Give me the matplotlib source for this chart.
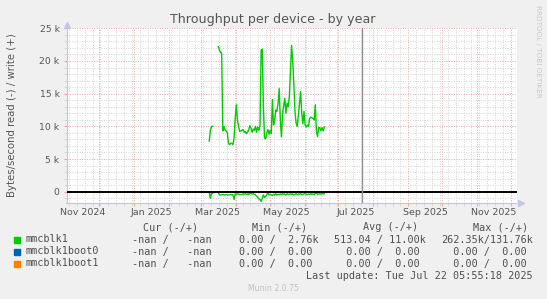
import matplotlib
matplotlib.use('Agg')
import matplotlib.pyplot as plt
import matplotlib.dates as mdates
from matplotlib.patches import Rectangle
import numpy as np
import pandas as pd
from datetime import datetime

# daily averages, first sample on 2025-03-08, values in k bytes/s
first_day = '2025-03-08 12:00'
write_k = [7.75, 9.4, 10.0, 10.0, np.nan, np.nan, np.nan, np.nan, 22.2, 21.7,
           21.3, 21.2, 9.3, 10.0, 9.4, 9.3, 9.0, 7.4, 7.2, 7.4,
           7.4, 7.2, 8.2, 11.3, 13.3, 10.9, 10.0, 9.2, 9.3, 9.4,
           9.5, 9.1, 9.2, 8.9, 9.1, 9.5, 10.1, 9.7, 9.1, 9.6,
           9.4, 10.0, 9.1, 9.9, 9.4, 10.2, 21.7, 21.8, 13.0, 8.2,
           8.1, 9.0, 9.5, 8.8, 9.4, 8.9, 14.1, 10.2, 11.0, 12.5,
           12.3, 13.5, 15.8, 11.0, 8.4, 11.8, 13.2, 14.3, 12.0, 13.5,
           13.0, 14.6, 18.5, 22.4, 20.0, 16.5, 12.3, 10.5, 10.0, 11.6,
           13.5, 15.3, 12.0, 10.4, 12.3, 10.2, 9.9, 10.2, 10.0, 11.2,
           11.4, 11.3, 11.2, 11.0, 13.3, 9.3, 8.4, 9.8, 9.8, 9.3,
           9.8, 9.3, 9.9]
read_k = [0.15, 1.0, 0.2, 0.25, np.nan, np.nan, np.nan, np.nan, 0.1, 0.5,
          0.5, 0.5, 0.45, 0.5, 0.5, 0.45, 0.5, 0.5, 0.5, 0.4,
          0.5, 0.45, 1.2, 0.3, 0.4, 0.35, 0.35, 0.45, 0.4, 0.45,
          0.35, 0.4, 0.3, 0.4, 0.35, 0.45, 0.0, 0.3, 0.35, 0.3,
          0.4, 0.5, 0.7, 0.9, 1.1, 1.2, 1.5, 1.0, 0.5, 0.9,
          0.7, 0.5, 0.2, 0.5, 0.4, 0.5, 0.6, 0.4, 0.5, 0.3,
          0.5, 0.4, 0.5, 0.35, 0.45, 0.3, 0.4, 0.35, 0.5, 0.3,
          0.4, 0.45, 0.3, 0.4, 0.35, 0.5, 0.4, 0.3, 0.45, 0.35,
          0.4, 0.3, 0.45, 0.4, 0.35, 0.3, 0.4, 0.45, 0.35, 0.4,
          0.3, 0.4, 0.35, 0.45, 0.3, 0.2, 0.4, 0.35, 0.3, 0.4,
          0.25, 0.35, 0.3]

month_labels = ['Nov 2024', 'Jan 2025', 'Mar 2025', 'May 2025',
                'Jul 2025', 'Sep 2025', 'Nov 2025']
y_ticks = [0, 5000, 10000, 15000, 20000, 25000]
y_ticklabels = ['0', '5 k', '10 k', '15 k', '20 k', '25 k']

devices = ['mmcblk1', 'mmcblk1boot0', 'mmcblk1boot1']
dev_colors = ['#00CC00', '#0066B3', '#FF8000']
cur_txt = ['-nan /   -nan', '-nan /   -nan', '-nan /   -nan']
min_txt = ['0.00 /  2.76k', '0.00 /  0.00', '0.00 /  0.00']
avg_txt = ['513.04 / 11.00k', '  0.00 /  0.00', '  0.00 /  0.00']
max_txt = ['262.35k/131.76k', '  0.00 /  0.00', '  0.00 /  0.00']
last_update = 'Last update: Tue Jul 22 05:55:18 2025'
now = datetime(2025, 7, 22, 5, 55)

W, H = 547, 299
fig = plt.figure(figsize=(W / 100, H / 100), dpi=100, facecolor='#F0F0F0')

def px(x, y):
    return x / W, 1 - y / H

left, right, top, bottom = 66.5, 516.5, 28.3, 203.0
ax = fig.add_axes([left / W, 1 - bottom / H, (right - left) / W, (bottom - top) / H])
ax.set_facecolor('white')

dates = pd.date_range(first_day, periods=len(write_k), freq='D')
w = np.array(write_k) * 1000
r = -np.array(read_k) * 1000
ax.plot(dates, w, color='#00CC00', lw=1.0, zorder=4)
ax.plot(dates, r, color='#00CC00', lw=1.0, zorder=4)

ax.set_xlim(datetime(2024, 11, 1, 22), datetime(2025, 12, 5, 22))
ax.set_ylim(-1730, 25000)

# grid
ax.xaxis.set_major_locator(mdates.MonthLocator())
ax.xaxis.set_minor_locator(mdates.WeekdayLocator(byweekday=mdates.MO))
ax.xaxis.set_major_formatter(plt.NullFormatter())
ax.set_yticks(y_ticks)
ax.set_yticklabels(y_ticklabels)
ax.yaxis.set_minor_locator(matplotlib.ticker.MultipleLocator(1000))
ax.grid(which='minor', color='#D4D4D4', lw=0.7, linestyle=(0, (1, 1.5)))
ax.grid(which='major', color='#EFA5A5', lw=0.7, linestyle=(0, (1, 1.5)))
ax.tick_params(which='major', length=2, color='#EFA5A5', labelsize=6.7,
               labelcolor='#555555', pad=3)
ax.tick_params(which='minor', length=2, color='#D4D4D4')
ax.set_axisbelow(True)

for lab, (yy, mm) in zip(month_labels, [(2024, 11), (2025, 1), (2025, 3), (2025, 5),
                                          (2025, 7), (2025, 9), (2025, 11)]):
    ax.text(datetime(yy, mm, 16), -0.028, lab, transform=ax.get_xaxis_transform(),
            ha='center', va='top', fontsize=6.8, color='#555555')

ax.axhline(0, color='black', lw=1.4, zorder=5)
ax.axvline(now, color='#909090', lw=1.0, zorder=5)

for s in ['top', 'right']:
    ax.spines[s].set_visible(False)
for s in ['left', 'bottom']:
    ax.spines[s].set_color('#C4C4E4')
    ax.spines[s].set_linewidth(0.8)
ax.plot([0], [1.02], marker='^', color='#C4C4E4', ms=4, transform=ax.transAxes, clip_on=False)
ax.plot([1.01], [0], marker='>', color='#C4C4E4', ms=4, transform=ax.transAxes, clip_on=False)

# texts
fig.text(*px(273, 19), 'Throughput per device - by year', ha='center', va='center',
         fontsize=9.1, color='#555555')
fig.text(*px(12, 115), 'Bytes/second read (-) / write (+)', rotation=90,
         ha='center', va='center', fontsize=7.3, color='#555555')
fig.text(*px(538, 5), 'RRDTOOL / TOBI OETIKER', rotation=270, ha='center', va='top',
         fontsize=5.2, color='#C8C8C8')

mono = dict(family='DejaVu Sans Mono', fontsize=7.3, color='#505050', va='center')
fig.text(*px(143, 227), 'Cur (-/+)', **mono)
fig.text(*px(252, 227), 'Min (-/+)', **mono)
fig.text(*px(363, 227), 'Avg (-/+)', **mono)
fig.text(*px(473, 227), 'Max (-/+)', **mono)
for i, dev in enumerate(devices):
    yrow = 239.5 + 12 * i
    fig.add_artist(Rectangle(px(13.5, yrow + 3.5), 6 / W, 6 / H,
                             transform=fig.transFigure, color=dev_colors[i]))
    fig.text(*px(26, yrow), dev, **mono)
    fig.text(*px(132.5, yrow), cur_txt[i], **mono)
    fig.text(*px(239, yrow), min_txt[i], **mono)
    fig.text(*px(334, yrow), avg_txt[i], **mono)
    fig.text(*px(441, yrow), max_txt[i], **mono)
fig.text(*px(533, 276), last_update, ha='right', **mono)
fig.text(*px(273, 288.5), 'Munin 2.0.75', ha='center', va='center',
         fontsize=5.6, color='#C0C0C0')

fig.savefig('out.png', dpi=100, facecolor=fig.get_facecolor())
